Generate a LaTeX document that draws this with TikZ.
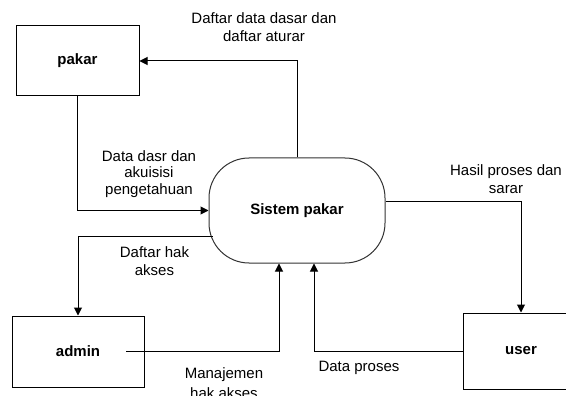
\documentclass[tikz,border=0pt]{standalone}
\usepackage{fontspec}
\setmainfont{Liberation Sans}
\usetikzlibrary{arrows.meta}
\begin{document}
\begin{tikzpicture}[x=1pt,y=-1pt,
  lbl/.style={font=\fontsize{15}{18}\selectfont, align=center, inner sep=0pt},
  entity/.style={draw, line width=1pt, font=\fontsize{15}{18}\selectfont\bfseries, inner sep=0pt},
  proc/.style={draw=black!80, line width=1pt, rounded corners=40pt, font=\fontsize{15}{18}\selectfont\bfseries, inner sep=0pt, minimum width=176pt, minimum height=105pt},
  arr/.style={line width=1pt, -{Triangle[length=8pt,width=8pt]}},
  ln/.style={line width=1pt}]
\useasboundingbox (0,0) rectangle (566,396);
\clip (0,0) rectangle (566,396);
\fill[white] (0,0) rectangle (566,396);

\node[entity, minimum width=123pt, minimum height=70pt] (pakar) at (77.5,61) {pakar};
\node[entity, minimum width=132pt, minimum height=71pt] (admin) at (78,351.5) {admin};
\node[entity, minimum width=116pt, minimum height=76pt] (user) at (521,351) {user};
\node[proc] (sistem) at (297,210.5) {Sistem pakar};

\draw[arr] (sistem.north) |- (pakar.east);
\draw[arr] (pakar.south) |- (sistem.west);
\draw[arr] ([shift={(4,25.5)}]sistem.west) -| (admin.north);
\draw[arr] ([xshift=48pt]admin.center) -| ([xshift=-18pt]sistem.south);
\draw[arr] (user.west) -| ([xshift=17pt]sistem.south);
\draw[arr] ([shift={(0,-8.5)}]sistem.east) -| (user.north);

\node[lbl] (l1) at (264,27) {Daftar data dasar dan\\daftar aturar};
\node[lbl, font=\fontsize{15}{16.5}\selectfont] (l2) at (149,174) {Data dasr dan\\akuisisi\\pengetahuan};
\node[lbl] (l3) at (506,179) {Hasil proses dan\\sarar};
\node[lbl] (l4) at (154.5,261.5) {Daftar hak\\akses};
\node[lbl, font=\fontsize{15}{20}\selectfont] (l5) at (224,383.5) {Manajemen\\hak akses};
\node[lbl] (l6) at (359,368) {Data proses};
\end{tikzpicture}
\end{document}
